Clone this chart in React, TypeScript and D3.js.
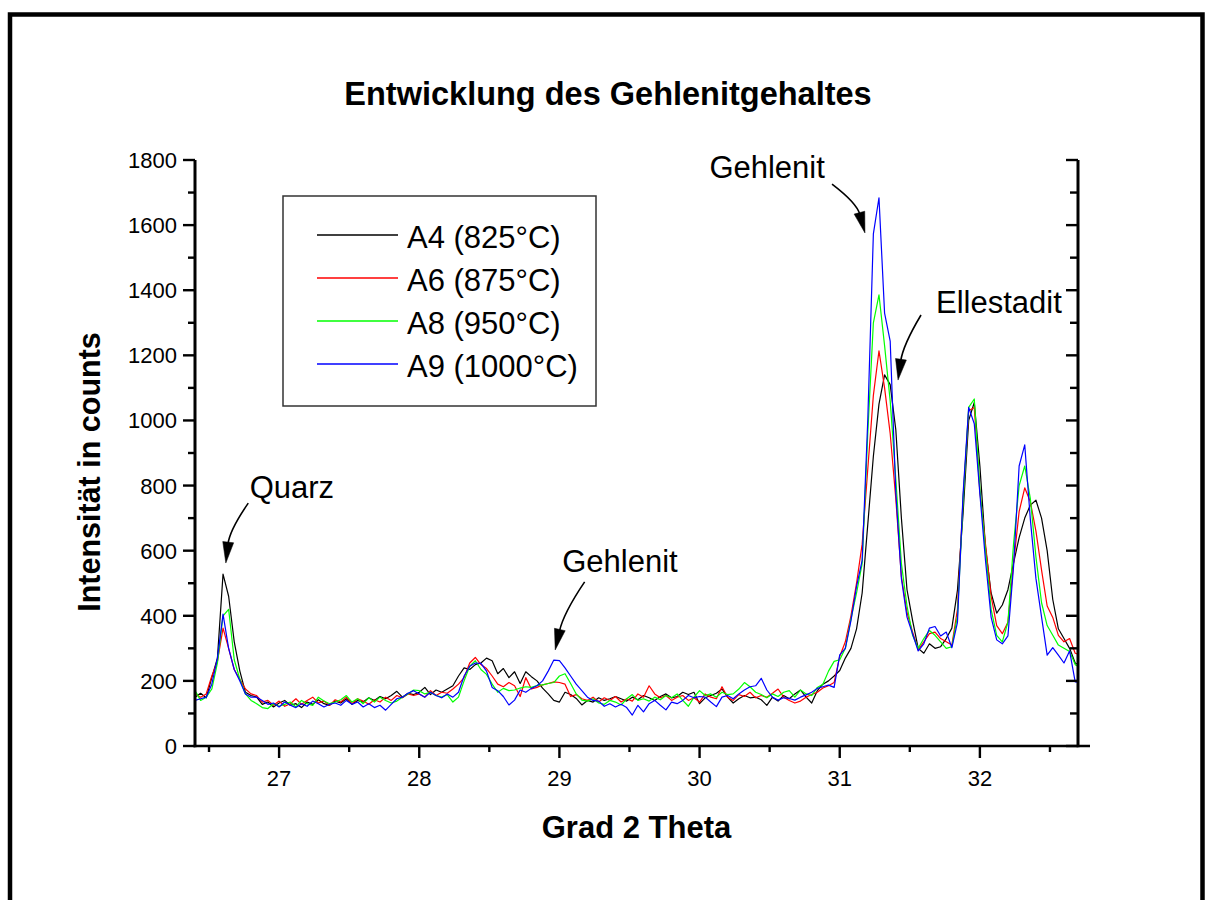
import React from 'react';
import * as d3 from 'd3';

// Diffraction scan grid (degrees 2-theta)
const THETA_START = 26.4;
const THETA_STEP = 0.04;

// Intensities in counts, one value per grid step
const A4 = [
  150, 162, 148, 210, 270, 528, 460, 320, 230, 165, 155,
  150, 128, 135, 120, 132, 140, 125, 130, 118, 135, 128, 142, 130, 125, 138,
  132, 145, 128, 140, 135, 148, 140, 152, 145, 155, 168, 150, 162, 158,
  165, 180, 158, 172, 165, 175, 185, 215, 240, 235, 250, 255, 270, 262, 222,
  238, 210, 228, 192, 228, 213, 200, 178, 160, 140, 135, 165, 158, 146, 126,
  140, 135, 148, 140, 145, 152, 145, 138, 150, 142, 155, 148, 140, 152, 160, 148,
  152, 165, 158, 165, 130, 148, 155, 162, 175, 150, 132, 145, 155, 148, 150,
  142, 125, 150, 138, 155, 145, 160, 172, 150, 132, 170, 190, 200, 215, 232,
  270, 300, 360, 470, 680, 890, 1050, 1140, 1110, 972, 700, 480, 385, 300, 285,
  314, 300, 305, 330, 362, 479, 714, 1000, 1055, 860, 610, 470, 408, 433, 480,
  562, 640, 700, 740, 755, 700, 600, 450, 360, 330, 300, 255, 245,
];

const A6 = [
  160, 150, 160, 215, 260, 362, 300, 235, 205, 175, 160,
  155, 135, 140, 125, 138, 122, 130, 145, 128, 140, 150, 132, 138, 125, 142,
  135, 150, 130, 145, 138, 128, 142, 135, 150, 140, 155, 148, 160, 155,
  160, 150, 170, 155, 165, 162, 175, 190, 210, 255, 272, 250, 238, 215, 190,
  182, 195, 185, 152, 210, 175, 180, 188, 192, 197, 195, 190, 152, 158, 145,
  140, 150, 135, 148, 140, 152, 135, 145, 138, 160, 150, 185, 160, 148, 155, 140,
  150, 155, 140, 148, 135, 160, 150, 145, 182, 150, 140, 158, 152, 165, 148,
  155, 150, 162, 175, 150, 140, 132, 138, 150, 158, 165, 178, 185, 195, 275,
  320, 400, 500, 620, 850, 1077, 1214, 1100, 960, 760, 520, 410, 350, 295, 320,
  345, 350, 330, 320, 310, 420, 760, 1030, 1040, 780, 620, 460, 370, 345, 380,
  560, 720, 793, 750, 660, 540, 430, 395, 340, 320, 330, 285, 280,
];

const A8 = [
  170, 140, 150, 175, 255, 400, 420, 265, 205, 160, 140,
  130, 118, 115, 130, 122, 128, 135, 120, 140, 130, 125, 150, 138, 130, 135,
  142, 155, 135, 145, 130, 148, 135, 150, 140, 132, 138, 150, 160, 172,
  170, 160, 165, 155, 150, 158, 135, 150, 200, 245, 262, 235, 220, 190, 165,
  177, 170, 172, 178, 182, 180, 186, 188, 192, 195, 215, 222, 192, 160, 141,
  138, 145, 132, 128, 140, 135, 126, 145, 158, 140, 145, 138, 150, 142, 155, 148,
  160, 140, 122, 150, 170, 155, 160, 150, 165, 158, 160, 175, 195, 182, 165,
  158, 148, 160, 152, 165, 170, 150, 172, 160, 155, 180, 190, 230, 260, 265,
  300, 390, 470, 560, 960, 1300, 1386, 1230, 1060, 820, 560, 430, 340, 300, 330,
  355, 340, 320, 300, 305, 400, 750, 1040, 1066, 790, 600, 420, 340, 320, 380,
  620, 800, 860, 760, 580, 440, 370, 340, 310, 300, 290, 250, 240,
];

const A9 = [
  140, 145, 150, 190, 270, 405, 300, 235, 200, 160, 150,
  150, 140, 128, 132, 120, 135, 125, 118, 130, 122, 138, 130, 120, 128, 132,
  125, 140, 128, 135, 120, 130, 118, 125, 110, 128, 145, 150, 162, 170,
  160, 150, 165, 155, 148, 160, 150, 165, 215, 245, 255, 254, 230, 180, 170,
  152, 126, 141, 172, 165, 177, 185, 200, 230, 264, 262, 240, 215, 190, 170,
  150, 140, 138, 122, 130, 120, 128, 118, 95, 125, 105, 130, 140, 125, 111, 135,
  130, 140, 155, 148, 152, 150, 135, 121, 150, 155, 145, 160, 172, 182, 185,
  208, 172, 150, 141, 148, 146, 141, 150, 157, 165, 177, 182, 187, 180, 280,
  300, 385, 490, 570, 1000, 1573, 1684, 1330, 1244, 780, 514, 396, 344, 292, 314,
  362, 367, 338, 350, 302, 380, 774, 1040, 990, 774, 570, 396, 326, 314, 338,
  550, 860, 925, 696, 514, 396, 279, 302, 279, 255, 292, 197, 195,
];

const SERIES_NAMES = ['A4 (825°C)', 'A6 (875°C)', 'A8 (950°C)', 'A9 (1000°C)'];
const SERIES_VALUES = [A4, A6, A8, A9];
const SERIES_COLORS = ['#000000', '#ff0000', '#00ff00', '#0000ff'];

const X_DOMAIN: [number, number] = [26.4, 32.7];
const Y_DOMAIN: [number, number] = [0, 1800];
const X_MAJOR = [27, 28, 29, 30, 31, 32];
const X_MINOR = [26.5, 27.5, 28.5, 29.5, 30.5, 31.5, 32.5];
const Y_MAJOR = [0, 200, 400, 600, 800, 1000, 1200, 1400, 1600, 1800];
const Y_MINOR = [100, 300, 500, 700, 900, 1100, 1300, 1500, 1700];

// Peak annotations: label anchor, arrow start and arrow tip in data units
const ANNOTATIONS = [
  { text: 'Quarz', lx: 26.79, ly: 762, sx: 26.78, sy: 746, tx: 26.62, ty: 562, bend: 8 },
  { text: 'Gehlenit', lx: 29.02, ly: 534, sx: 29.18, sy: 504, tx: 28.97, ty: 295, bend: 7 },
  { text: 'Gehlenit', lx: 30.07, ly: 1745, sx: 30.945, sy: 1726, tx: 31.18, ty: 1576, bend: -10 },
  { text: 'Ellestadit', lx: 31.687, ly: 1330, sx: 31.58, sy: 1324, tx: 31.416, ty: 1124, bend: 7 },
];

const FONT = '"Liberation Sans", Arial, Helvetica, sans-serif';

const W = 1213;
const H = 900;
const PLOT = { left: 195, right: 1078, top: 160, bottom: 746 };

function Arrow({ x0, y0, x1, y1, bend }: { x0: number; y0: number; x1: number; y1: number; bend: number }) {
  const dx = x1 - x0;
  const dy = y1 - y0;
  const len = Math.hypot(dx, dy);
  const nx = -dy / len;
  const ny = dx / len;
  const cx = (x0 + x1) / 2 + nx * bend;
  const cy = (y0 + y1) / 2 + ny * bend;
  const tdx = x1 - cx;
  const tdy = y1 - cy;
  const tl = Math.hypot(tdx, tdy);
  const ux = tdx / tl;
  const uy = tdy / tl;
  const headLen = 21;
  const headHalf = 5.5;
  const bx = x1 - ux * headLen;
  const by = y1 - uy * headLen;
  const path = d3.path();
  path.moveTo(x0, y0);
  path.quadraticCurveTo(cx, cy, bx + ux * 2, by + uy * 2);
  const head = `M${x1},${y1}L${bx - uy * headHalf},${by + ux * headHalf}L${bx + uy * headHalf},${by - ux * headHalf}Z`;
  return (
    <g>
      <path d={path.toString()} fill="none" stroke="#000" strokeWidth={1.6} />
      <path d={head} fill="#000" stroke="#000" strokeWidth={0.5} />
    </g>
  );
}

export default function App() {
  const x = d3.scaleLinear().domain(X_DOMAIN).range([PLOT.left, PLOT.right]);
  const y = d3.scaleLinear().domain(Y_DOMAIN).range([PLOT.bottom, PLOT.top]);

  const line = d3
    .line<number>()
    .x((_, i) => x(THETA_START + i * THETA_STEP))
    .y((v) => y(v));

  const legend = { x: 283, y: 196, w: 313, h: 210, lineX0: 317, lineX1: 398, textX: 407, rowY0: 235, rowStep: 43 };

  return (
    <svg
      width={W}
      height={H}
      viewBox={`0 0 ${W} ${H}`}
      style={{ position: 'absolute', left: 0, top: 0, display: 'block', background: '#fff' }}
      fontFamily={FONT}
    >
      <rect x={0} y={0} width={W} height={H} fill="#fff" />
      {/* outer frame */}
      <rect x={10} y={14.5} width={1192.5} height={1000} fill="none" stroke="#000" strokeWidth={4.5} />

      <text x={608} y={105} textAnchor="middle" fontSize={32.5} fontWeight="bold">
        Entwicklung des Gehlenitgehaltes
      </text>

      <defs>
        <clipPath id="plot-clip">
          <rect x={PLOT.left} y={PLOT.top - 40} width={PLOT.right - PLOT.left} height={PLOT.bottom - PLOT.top + 40} />
        </clipPath>
      </defs>

      <g clipPath="url(#plot-clip)">
        {SERIES_VALUES.map((vals, i) => (
          <path key={i} d={line(vals) ?? ''} fill="none" stroke={SERIES_COLORS[i]} strokeWidth={1.2} strokeLinejoin="round" />
        ))}
      </g>

      {/* axes */}
      <g stroke="#000" fill="none">
        <line x1={PLOT.left} y1={PLOT.top} x2={PLOT.left} y2={PLOT.bottom + 1.3} strokeWidth={3} />
        <line x1={PLOT.right} y1={PLOT.top} x2={PLOT.right} y2={PLOT.bottom + 1.3} strokeWidth={3} />
        <line x1={PLOT.left - 1.5} y1={PLOT.bottom} x2={PLOT.right + 12} y2={PLOT.bottom} strokeWidth={2.6} />
        {Y_MAJOR.map((v) => (
          <g key={`ym${v}`}>
            <line x1={PLOT.left - 12} x2={PLOT.left} y1={y(v)} y2={y(v)} strokeWidth={2.4} />
            <line x1={PLOT.right - 12} x2={PLOT.right} y1={y(v)} y2={y(v)} strokeWidth={2.4} />
          </g>
        ))}
        {Y_MINOR.map((v) => (
          <g key={`yn${v}`}>
            <line x1={PLOT.left - 7} x2={PLOT.left} y1={y(v)} y2={y(v)} strokeWidth={2.4} />
            <line x1={PLOT.right - 8} x2={PLOT.right} y1={y(v)} y2={y(v)} strokeWidth={2.4} />
          </g>
        ))}
        {X_MAJOR.map((v) => (
          <line key={`xm${v}`} x1={x(v)} x2={x(v)} y1={PLOT.bottom} y2={PLOT.bottom + 12} strokeWidth={2.4} />
        ))}
        {X_MINOR.map((v) => (
          <line key={`xn${v}`} x1={x(v)} x2={x(v)} y1={PLOT.bottom} y2={PLOT.bottom + 6} strokeWidth={2.4} />
        ))}
      </g>

      <g fontSize={22} fill="#000">
        {Y_MAJOR.map((v) => (
          <text key={`yl${v}`} x={177} y={y(v) + 8} textAnchor="end">
            {v}
          </text>
        ))}
        {X_MAJOR.map((v) => (
          <text key={`xl${v}`} x={x(v)} y={786} textAnchor="middle">
            {v}
          </text>
        ))}
      </g>

      <text x={(PLOT.left + PLOT.right) / 2} y={838} textAnchor="middle" fontSize={31} fontWeight="bold">
        Grad 2 Theta
      </text>
      <text transform="translate(100,472) rotate(-90)" textAnchor="middle" fontSize={30.5} fontWeight="bold">
        Intensität in counts
      </text>

      {/* legend */}
      <rect x={legend.x} y={legend.y} width={legend.w} height={legend.h} fill="#fff" stroke="#333" strokeWidth={1.5} />
      {SERIES_NAMES.map((name, i) => {
        const ry = legend.rowY0 + i * legend.rowStep;
        return (
          <g key={name}>
            <line x1={legend.lineX0} x2={legend.lineX1} y1={ry} y2={ry} stroke={SERIES_COLORS[i]} strokeWidth={1.3} />
            <text x={legend.textX} y={ry + 12.5} fontSize={31}>
              {name}
            </text>
          </g>
        );
      })}

      {/* peak labels */}
      {ANNOTATIONS.map((a, i) => (
        <g key={i}>
          <text x={x(a.lx)} y={y(a.ly)} fontSize={31}>
            {a.text}
          </text>
          <Arrow x0={x(a.sx)} y0={y(a.sy)} x1={x(a.tx)} y1={y(a.ty)} bend={a.bend} />
        </g>
      ))}
    </svg>
  );
}
